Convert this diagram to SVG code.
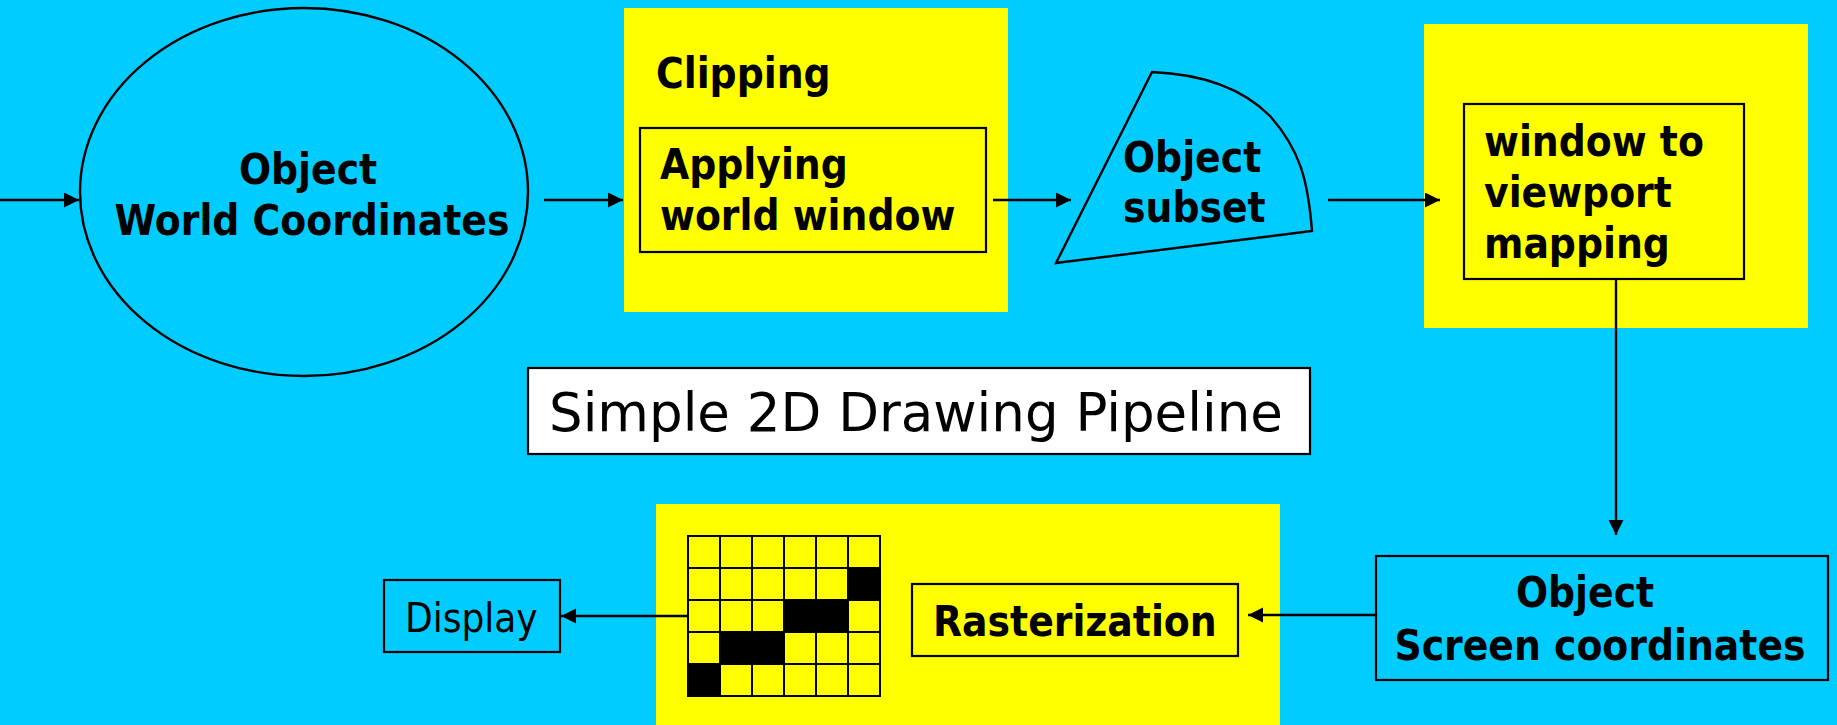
<svg xmlns="http://www.w3.org/2000/svg" width="1837" height="725" viewBox="0 0 1837 725">
<style>
.b{font-family:"DejaVu Sans Condensed","DejaVu Sans",sans-serif;font-weight:bold;font-size:42px;fill:#000}
.r{font-family:"DejaVu Sans Condensed","DejaVu Sans",sans-serif;font-size:40px;fill:#000}
.t{font-family:"DejaVu Sans",sans-serif;font-size:53px;fill:#000}
.ln{stroke:#000;stroke-width:2.4;fill:none}
.yb{fill:#FFFF00}
.box{stroke:#000;stroke-width:2.2}
.g{fill:#FFFF00;stroke:#000;stroke-width:2}
.k{fill:#000;stroke:#000;stroke-width:2}
</style>
<defs>
<marker id="ah" markerUnits="userSpaceOnUse" markerWidth="16" markerHeight="16" refX="15" refY="7.5" orient="auto">
<path d="M0,0 L15,7.5 L0,15 Z" fill="#000"/>
</marker>
</defs>
<rect width="1837" height="725" fill="#00CCFF"/>

<g id="world">
<ellipse cx="304" cy="192" rx="224" ry="184" fill="#00CCFF" stroke="#000" stroke-width="2.4"/>
<text class="b" x="308" y="184" text-anchor="middle">Object</text>
<text class="b" x="312" y="235" text-anchor="middle">World Coordinates</text>
</g>

<g id="clipping">
<rect class="yb" x="624" y="8" width="384" height="304"/>
<text class="b" x="656" y="88">Clipping</text>
<rect class="box" x="640" y="128" width="346" height="124" fill="#FFFF00"/>
<text class="b" x="660" y="179">Applying</text>
<text class="b" x="660" y="230">world window</text>
</g>

<g id="subset">
<path d="M1152,72 C1200,74 1240,86 1270,116 C1300,150 1308,180 1312,231 L1056,263 Z" fill="#00CCFF" stroke="#000" stroke-width="2.4"/>
<text class="b" x="1123" y="172">Object</text>
<text class="b" x="1123" y="222">subset</text>
</g>

<g id="viewport">
<rect class="yb" x="1424" y="24" width="384" height="304"/>
<rect class="box" x="1464" y="104" width="280" height="175" fill="#FFFF00"/>
<text class="b" x="1484" y="156">window to</text>
<text class="b" x="1484" y="207">viewport</text>
<text class="b" x="1484" y="258">mapping</text>
</g>

<g id="title">
<rect x="528" y="368" width="782" height="86" fill="#FFFFFF" stroke="#000" stroke-width="2.2"/>
<text class="t" x="549" y="431">Simple 2D Drawing Pipeline</text>
</g>

<g id="screen">
<rect class="box" x="1376" y="556" width="452" height="124" fill="#00CCFF"/>
<text class="b" x="1585" y="607" text-anchor="middle">Object</text>
<text class="b" x="1600" y="660" text-anchor="middle">Screen coordinates</text>
</g>

<g id="raster">
<rect class="yb" x="656" y="504" width="624" height="221"/>
<g id="grid">
<rect class="g" x="688" y="536" width="32" height="32"/>
<rect class="g" x="720" y="536" width="32" height="32"/>
<rect class="g" x="752" y="536" width="32" height="32"/>
<rect class="g" x="784" y="536" width="32" height="32"/>
<rect class="g" x="816" y="536" width="32" height="32"/>
<rect class="g" x="848" y="536" width="32" height="32"/>
<rect class="g" x="688" y="568" width="32" height="32"/>
<rect class="g" x="720" y="568" width="32" height="32"/>
<rect class="g" x="752" y="568" width="32" height="32"/>
<rect class="g" x="784" y="568" width="32" height="32"/>
<rect class="g" x="816" y="568" width="32" height="32"/>
<rect class="k" x="848" y="568" width="32" height="32"/>
<rect class="g" x="688" y="600" width="32" height="32"/>
<rect class="g" x="720" y="600" width="32" height="32"/>
<rect class="g" x="752" y="600" width="32" height="32"/>
<rect class="k" x="784" y="600" width="32" height="32"/>
<rect class="k" x="816" y="600" width="32" height="32"/>
<rect class="g" x="848" y="600" width="32" height="32"/>
<rect class="g" x="688" y="632" width="32" height="32"/>
<rect class="k" x="720" y="632" width="32" height="32"/>
<rect class="k" x="752" y="632" width="32" height="32"/>
<rect class="g" x="784" y="632" width="32" height="32"/>
<rect class="g" x="816" y="632" width="32" height="32"/>
<rect class="g" x="848" y="632" width="32" height="32"/>
<rect class="k" x="688" y="664" width="32" height="32"/>
<rect class="g" x="720" y="664" width="32" height="32"/>
<rect class="g" x="752" y="664" width="32" height="32"/>
<rect class="g" x="784" y="664" width="32" height="32"/>
<rect class="g" x="816" y="664" width="32" height="32"/>
<rect class="g" x="848" y="664" width="32" height="32"/>
</g>
<rect class="box" x="912" y="584" width="326" height="72" fill="#FFFF00"/>
<text class="b" x="933" y="636">Rasterization</text>
</g>

<g id="display">
<rect class="box" x="384" y="580" width="176" height="72" fill="#00CCFF"/>
<text class="r" x="405" y="632">Display</text>
</g>

<g id="connectors">
<line class="ln" x1="0" y1="200" x2="79" y2="200" marker-end="url(#ah)"/>
<line class="ln" x1="544" y1="200" x2="623" y2="200" marker-end="url(#ah)"/>
<line class="ln" x1="993" y1="200" x2="1071" y2="200" marker-end="url(#ah)"/>
<line class="ln" x1="1328" y1="200" x2="1440" y2="200" marker-end="url(#ah)"/>
<line class="ln" x1="1616" y1="279" x2="1616" y2="535" marker-end="url(#ah)"/>
<line class="ln" x1="1376" y1="615" x2="1248" y2="615" marker-end="url(#ah)"/>
<line class="ln" x1="687" y1="616" x2="561" y2="616" marker-end="url(#ah)"/>
</g>
</svg>
